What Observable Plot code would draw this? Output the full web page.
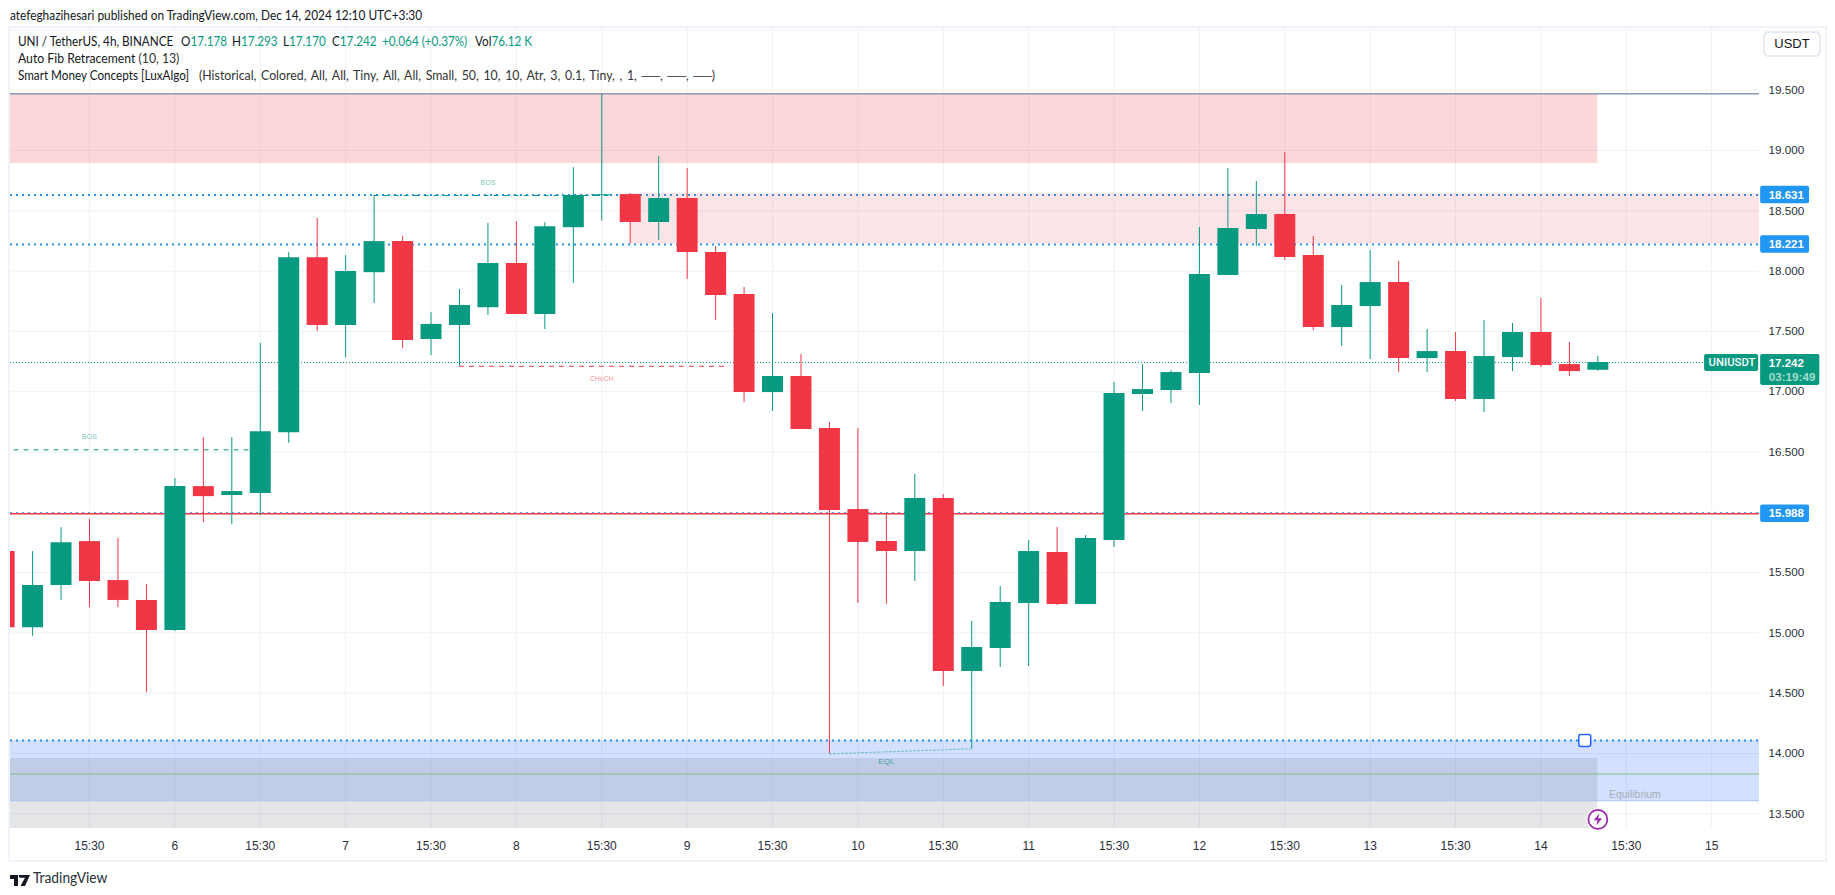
<!DOCTYPE html>
<html>
<head>
<meta charset="utf-8">
<script src="https://cdn.jsdelivr.net/npm/d3@7"></script>
<script src="https://cdn.jsdelivr.net/npm/@observablehq/plot@0.6"></script>
<style>
html,body{margin:0;padding:0;background:#fff;width:1835px;height:895px;overflow:hidden;font-family:Lato,"Liberation Sans",Arial,sans-serif;color:#131722}
.abs{position:absolute;white-space:nowrap}
#panel{position:absolute;left:8px;top:26px;width:1815px;height:832px;border:2px solid #f0f3fa;box-sizing:content-box;pointer-events:none}
#chart{position:absolute;left:10px;top:28px}
.g{color:#089981}
.t{position:absolute;white-space:nowrap;font-size:13px;line-height:17px;transform-origin:left center;transform:scaleX(.9)}
.g b{font-weight:400}
</style>
</head>
<body>
<div class="t" style="left:10px;top:7px;line-height:16px;transform:scaleX(.912)" id="pub">atefeghazihesari published on TradingView.com, Dec 14, 2024 12:10 UTC+3:30</div>
<div id="chart"></div>
<div id="panel"></div>
<div class="t" style="left:18px;top:33px">UNI / TetherUS, 4h, BINANCE</div>
<div class="t" style="left:181px;top:33px">O<span class="g">17.178</span></div>
<div class="t" style="left:232px;top:33px">H<span class="g">17.293</span></div>
<div class="t" style="left:283px;top:33px">L<span class="g">17.170</span></div>
<div class="t" style="left:332px;top:33px">C<span class="g">17.242</span></div>
<div class="t g" style="left:382px;top:33px">+0.064 (+0.37%)</div>
<div class="t" style="left:475px;top:33px">Vol<span class="g">76.12 K</span></div>
<div class="t" style="left:18px;top:50px;transform:scaleX(.94)">Auto Fib Retracement <span style="color:#333">(10, 13)</span></div>
<div class="t" style="left:18px;top:67px">Smart Money Concepts [LuxAlgo]</div>
<div class="t" style="left:199px;top:67px;color:#333;word-spacing:1.6px;transform:scaleX(.947)">(Historical, Colored, All, All, Tiny, All, All, Small, 50, 10, 10, Atr, 3, 0.1, Tiny, , 1, ──, ──, ──)</div>
<div class="abs" style="left:1763px;top:31px;width:54px;height:22px;border:2px solid #e8eaf1;border-radius:5px;text-align:center;font-size:13px;line-height:22px;background:#fff;font-family:'Liberation Sans',Arial,sans-serif">USDT</div>
<div class="abs" style="left:10px;top:871px;height:12px;width:20px">
  <svg width="20" height="12" viewBox="0 0 20 12"><path d="M0 0H8V11H4V4H0Z M9 0H20L15 11H10.5L15 2.8H11A2 2 0 0 1 9 0Z" fill="#131722"/></svg>
</div>
<div class="t" style="left:33px;top:869px;font-size:14.5px;line-height:18px;color:#2a2e39;transform:scaleX(.95)">TradingView</div>
<script>
// Bars of the 4h chart: index 0 is the first full bar, -1 the clipped one at the left edge
const firstBar = -1;
const open  = [15.674,15.043,15.393,15.757,15.434,15.269,15.020,16.213,16.139,16.157,16.660,18.111,17.549,17.987,18.245,17.433,17.549,17.697,18.064,17.641,18.360,18.627,18.635,18.403,18.602,18.154,17.806,16.993,17.126,16.695,16.023,15.758,15.675,16.114,14.680,14.871,15.244,15.667,15.236,15.766,16.977,17.010,17.151,17.963,18.345,18.469,18.129,17.532,17.706,17.905,17.275,17.333,16.935,17.283,17.491,17.225,17.178];
const high  = [15.674,15.674,15.873,15.941,15.784,15.402,16.281,16.619,16.619,17.401,18.153,18.437,18.129,18.627,18.286,17.655,17.848,18.396,18.411,18.402,18.858,19.464,18.643,18.950,18.851,18.204,17.864,17.648,17.308,16.745,16.695,15.987,16.314,16.148,15.095,15.385,15.766,15.874,15.808,17.076,17.225,17.176,18.362,18.851,18.743,18.983,18.287,17.881,18.171,18.080,17.516,17.491,17.590,17.566,17.773,17.408,17.293];
const low   = [15.043,14.972,15.269,15.209,15.209,14.504,15.011,15.914,15.899,15.973,16.572,17.498,17.282,17.732,17.359,17.300,17.211,17.632,17.641,17.516,17.898,18.414,18.223,18.254,17.930,17.590,16.910,16.836,16.687,13.997,15.244,15.236,15.426,14.556,14.039,14.713,14.721,15.227,15.236,15.708,16.836,16.902,16.886,17.963,18.204,18.088,17.507,17.375,17.267,17.159,17.159,16.919,16.827,17.167,17.200,17.126,17.170];
const close = [15.043,15.393,15.748,15.426,15.269,15.020,16.213,16.130,16.172,16.669,18.111,17.549,17.996,18.245,17.424,17.558,17.715,18.064,17.641,18.369,18.627,18.633,18.403,18.602,18.154,17.798,16.993,17.126,16.687,16.015,15.750,15.675,16.114,14.680,14.879,15.252,15.675,15.236,15.783,16.985,17.018,17.159,17.972,18.353,18.469,18.113,17.532,17.715,17.905,17.275,17.333,16.935,17.292,17.491,17.217,17.167,17.242];
const bars = open.map((o,i)=>({bar:firstBar+i,open:o,high:high[i],low:low[i],close:close[i],up:close[i]>=o}));

const xTickBars = [2,5,8,11,14,17,20,23,26,29,32,35,38,41,44,47,50,53,56,59];
const xTickLabels = ["15:30","6","15:30","7","15:30","8","15:30","9","15:30","10","15:30","11","15:30","12","15:30","13","15:30","14","15:30","15"];
const yTicks = [13.5,14,14.5,15,15.5,16,16.5,17,17.5,18,18.5,19,19.5];
const yGrid  = [13.5,14,14.5,15,15.5,16,16.5,17,17.5,18,18.5,19,19.5,20];
const xDomain = [-0.776,60.68];
const yDomain = [13.378,20.012];

const lastBar = 55;
const zones = [
  {x1:xDomain[0],x2:lastBar,y1:18.892,y2:19.47,fill:"#f23645",o:0.2},
  {x1:21,x2:xDomain[1],y1:18.223,y2:18.643,fill:"#f23645",o:0.13},
  {x1:xDomain[0],x2:xDomain[1],y1:13.608,y2:14.108,fill:"#2962ff",o:0.2},
  {x1:xDomain[0],x2:lastBar,y1:13.378,y2:13.958,fill:"#787b86",o:0.2}
];
const dottedLevels = [18.631,18.221,14.108];
const lastPrice = 17.242;
const redLevel = 15.988;
const topLevel = 19.47;
const midLevel = 13.83;
const lowLevel = 13.608;
const structure = [
  {x1:-0.65,x2:8,y:16.518,c:"#089981"},
  {x1:12,x2:20.3,y:18.627,c:"#089981"},
  {x1:15,x2:24.5,y:17.211,c:"#f23645"}
];
const structureLabels = [
  {x:2,y:16.625,t:"BOS",c:"#089981"},
  {x:16,y:18.73,t:"BOS",c:"#089981"},
  {x:20,y:17.11,t:"CHoCH",c:"#f23645"}
];
const eql = [{x:28,y:13.997},{x:33,y:14.039}];

const priceTags = [{y:18.631,t:"18.631"},{y:18.221,t:"18.221"},{y:15.988,t:"15.988"}];
const fmt3 = d3.format(".3f");
const tagX1 = 60.72, tagX2 = 62.44;   // price scale column
const boxX2 = 62.8;
const nameX1 = 58.75;
const tagH = 0.072;

const roundSquare = {draw(c,size){const s=Math.sqrt(size/Math.PI),a=s*0.35;
  c.moveTo(-s+a,-s);c.arcTo(s,-s,s,s,a);c.arcTo(s,s,-s,s,a);c.arcTo(-s,s,-s,-s,a);c.arcTo(-s,-s,s,-s,a);c.closePath();}};
const bolt = {draw(c,size){const s=Math.sqrt(size/Math.PI);
  [[0.25,-1],[-0.7,0.15],[-0.05,0.15],[-0.25,1],[0.7,-0.2],[0.05,-0.2]].forEach((p,i)=>i?c.lineTo(p[0]*s,p[1]*s):c.moveTo(p[0]*s,p[1]*s));c.closePath();}};

const up="#089981",down="#f23645",grid="#f0f1f4";
const color = d=>d.up?up:down;

const chart = Plot.plot({
  width:1814,height:830,
  marginLeft:0,marginRight:65,marginTop:0,marginBottom:30,
  style:{fontFamily:'"Liberation Sans",Arial,sans-serif',fontSize:"12px",background:"transparent",overflow:"visible",color:"#131722"},
  x:{type:"linear",domain:xDomain,label:null},
  y:{type:"linear",domain:yDomain,label:null},
  marks:[
    Plot.gridX(xTickBars,{stroke:grid,strokeOpacity:1}),
    Plot.gridY(yGrid,{stroke:grid,strokeOpacity:1}),
    Plot.ruleY(dottedLevels,{stroke:"#2196f3",strokeWidth:2,strokeDasharray:"2 4"}),
    Plot.ruleY([redLevel],{stroke:"#2196f3",strokeWidth:1,strokeDasharray:"2 4",dy:-1}),
    Plot.rect(zones,{x1:"x1",x2:"x2",y1:"y1",y2:"y2",fill:"fill",fillOpacity:"o"}),
    Plot.ruleY([topLevel],{stroke:"#8b98b9",strokeWidth:1.5}),
    Plot.ruleY([midLevel],{stroke:"#81bb85",strokeWidth:1.2}),
    Plot.ruleY([lowLevel],{stroke:"#a4c1f5",strokeWidth:1.2}),
    Plot.ruleY([redLevel],{stroke:down,strokeWidth:1.5}),
    Plot.ruleY([lastPrice],{x1:xDomain[0],x2:nameX1,stroke:up,strokeWidth:1,strokeDasharray:"1 2"}),
    Plot.ruleY(structure,{x1:"x1",x2:"x2",y:"y",stroke:"c",strokeWidth:1,strokeDasharray:"5 5"}),
    Plot.line(eql,{x:"x",y:"y",stroke:"#5fbcb3",strokeWidth:1.2,strokeDasharray:"2 2",strokeOpacity:0.75}),
    Plot.ruleX(bars,{x:"bar",y1:"low",y2:"high",stroke:color,strokeWidth:1,clip:true}),
    Plot.ruleX(bars,{x:"bar",y1:"open",y2:"close",stroke:color,strokeWidth:21,clip:true}),
    Plot.text(structureLabels,{x:"x",y:"y",text:"t",fill:"c",fillOpacity:0.6,fontSize:7}),
    Plot.text([{x:30,y:13.935}],{x:"x",y:"y",text:()=>"EQL",fill:"#089981",fillOpacity:0.75,fontSize:8}),
    Plot.text([{x:56.3,y:13.66}],{x:"x",y:"y",text:()=>"Equilibrium",fill:"#a9acb6",fontSize:10.5}),
    Plot.dot([{x:54.54,y:14.108}],{x:"x",y:"y",r:6,symbol:roundSquare,fill:"white",stroke:"#2962ff",strokeWidth:1.5}),
    Plot.dot([{x:55,y:13.453}],{x:"x",y:"y",r:11.5,fill:"white",stroke:"none"}),
    Plot.dot([{x:55,y:13.453}],{x:"x",y:"y",r:9.5,fill:"white",stroke:"#9c27b0",strokeWidth:1.8}),
    Plot.dot([{x:55,y:13.453}],{x:"x",y:"y",r:6,symbol:bolt,fill:"#9c27b0",stroke:"none"}),
    Plot.axisX({ticks:xTickBars,tickSize:0,tickPadding:13,tickFormat:d=>xTickLabels[xTickBars.indexOf(d)],fontSize:12,fill:"#2a2e39"}),
    Plot.axisY({anchor:"right",ticks:yTicks,tickSize:0,tickPadding:9,tickFormat:fmt3,fontSize:11.7,fill:"#2a2e39"}),
    // price tags on the right-hand scale
    Plot.rect(priceTags,{x1:tagX1,x2:tagX2,y1:d=>d.y-tagH,y2:d=>d.y+tagH,fill:"#2196f3",rx:2}),
    Plot.text(priceTags,{x:tagX1,dx:8,y:"y",text:"t",fill:"white",textAnchor:"start",fontSize:11.5,fontWeight:"bold"}),
    Plot.rect([{x1:nameX1,x2:xDomain[1]-0.03,y1:lastPrice-0.075,y2:lastPrice+0.067}],{x1:"x1",x2:"x2",y1:"y1",y2:"y2",fill:up,rx:2}),
    Plot.text(["UNIUSDT"],{x:nameX1,dx:4,y:()=>lastPrice,text:d=>d,fill:"white",textAnchor:"start",fontSize:11.3,fontFamily:"Roboto",fontWeight:500}),
    Plot.rect([{x1:tagX1,x2:boxX2,y1:lastPrice-0.19,y2:lastPrice+0.067}],{x1:"x1",x2:"x2",y1:"y1",y2:"y2",fill:up,rx:2}),
    Plot.text([fmt3(lastPrice)],{x:tagX1,dx:8,y:()=>lastPrice-0.008,text:d=>d,fill:"white",textAnchor:"start",fontSize:11.5,fontWeight:"bold"}),
    Plot.text(["03:19:49"],{x:tagX1,dx:8,y:()=>lastPrice-0.125,text:d=>d,fill:"#a5dccd",textAnchor:"start",fontSize:11.7,fontWeight:"bold"})
  ]
});
document.getElementById("chart").appendChild(chart);
</script>
</body>
</html>
